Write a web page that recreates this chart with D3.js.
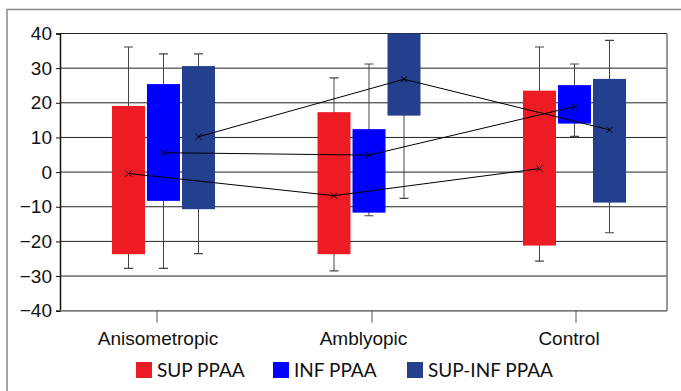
<!DOCTYPE html>
<html lang="en">
<head>
  <meta charset="UTF-8">
  <title>PPAA by group</title>
  <script src="https://d3js.org/d3.v7.min.js"></script>
  <style>
    body { margin: 0; background: #fff; font-family: 'Lato', 'Open Sans', sans-serif; }
    svg { display: block; }
    .tick text { font-size: 19px; fill: #111; }
  </style>
</head>
<body>
<svg width="681" height="391"></svg>
<script>
  // Data
  const groups = ["Anisometropic", "Amblyopic", "Control"];
  const series = ["SUP PPAA", "INF PPAA", "SUP-INF PPAA"];
  const colors = ["#ED1C24", "#0000FF", "#243F8E"];

  // box bottom / top, whisker low / high, mean — one array per series, in group order
  const boxLow = [[-23.7, -23.7, -21.2], [-8.3, -11.7, 14.0], [-10.7, 16.3, -8.8]];
  const boxHigh = [[19.1, 17.3, 23.5], [25.4, 12.4, 25.1], [30.6, 45, 26.9]];
  const whiskLow = [[-27.8, -28.5, -25.7], [-27.8, -12.6, 10.3], [-23.5, -7.6, -17.5]];
  const whiskHigh = [[36.1, 27.2, 36.1], [34.1, 31.2, 31.2], [34.1, 52, 38.0]];
  const means = [[-0.4, -6.8, 1.0], [5.6, 4.9, 18.9], [10.2, 26.8, 12.2]];

  const yTicks = [-40, -30, -20, -10, 0, 10, 20, 30, 40];

  const svg = d3.select("svg");
  const mLeft = 60, mRight = 667, mTop = 33.5, mBottom = 310.7;

  // outer frame
  svg.append("path")
    .attr("d", "M7,391V9.5H681")
    .attr("fill", "none").attr("stroke", "#888").attr("stroke-width", 1.5);

  const y = d3.scaleLinear().domain([-40, 40]).range([mBottom, mTop]);
  const x = d3.scalePoint().domain(groups).range([163.5, 574.5]);
  const xs = d3.scaleBand().domain(series).range([-51.5, 51.5]).paddingInner(2 / 35);

  // gridlines
  svg.append("g").selectAll("line").data(yTicks).join("line")
    .attr("x1", mLeft).attr("x2", mRight)
    .attr("y1", d => y(d)).attr("y2", d => y(d))
    .attr("stroke", "#222").attr("stroke-width", 1);

  // right border
  svg.append("line").attr("x1", mRight).attr("x2", mRight).attr("y1", mTop).attr("y2", mBottom)
    .attr("stroke", "#777").attr("stroke-width", 1.5);

  svg.append("clipPath").attr("id", "plot")
    .append("rect").attr("x", mLeft).attr("y", mTop).attr("width", mRight - mLeft).attr("height", mBottom - mTop);

  const plot = svg.append("g").attr("clip-path", "url(#plot)");

  series.forEach((s, i) => {
    const g = plot.append("g");
    const cx = d => x(groups[d]) + xs(s) + xs.bandwidth() / 2;
    const idx = d3.range(groups.length);

    // whiskers
    g.selectAll(".whisk").data(idx).join("line")
      .attr("x1", cx).attr("x2", cx)
      .attr("y1", d => y(whiskLow[i][d])).attr("y2", d => y(whiskHigh[i][d]))
      .attr("stroke", "#444").attr("stroke-width", 1);
    [whiskLow, whiskHigh].forEach(arr => {
      g.selectAll(null).data(idx).join("line")
        .attr("x1", d => cx(d) - 4.5).attr("x2", d => cx(d) + 4.5)
        .attr("y1", d => y(arr[i][d])).attr("y2", d => y(arr[i][d]))
        .attr("stroke", "#444").attr("stroke-width", 1.2);
    });

    // boxes
    g.selectAll("rect").data(idx).join("rect")
      .attr("x", d => x(groups[d]) + xs(s))
      .attr("width", xs.bandwidth())
      .attr("y", d => y(boxHigh[i][d]))
      .attr("height", d => y(boxLow[i][d]) - y(boxHigh[i][d]))
      .attr("fill", colors[i]);
  });

  // mean lines + x markers
  series.forEach((s, i) => {
    const idx = d3.range(groups.length);
    const cx = d => x(groups[d]) + xs(s) + xs.bandwidth() / 2;
    plot.append("path")
      .datum(idx)
      .attr("d", d3.line().x(cx).y(d => y(means[i][d])))
      .attr("fill", "none").attr("stroke", "#000").attr("stroke-width", 1);
    plot.selectAll(null).data(idx).join("path")
      .attr("d", d => {
        const px = cx(d), py = y(means[i][d]);
        return `M${px - 3},${py - 3}L${px + 3},${py + 3}M${px - 3},${py + 3}L${px + 3},${py - 3}`;
      })
      .attr("stroke", "#000").attr("stroke-width", 1);
  });

  // y axis
  const yAxis = svg.append("g").attr("transform", `translate(${mLeft},0)`)
    .call(d3.axisLeft(y).tickValues(yTicks).tickSize(4).tickPadding(4));
  yAxis.select(".domain").attr("stroke", "#111").attr("stroke-width", 1.5);
  yAxis.selectAll(".tick line").attr("stroke", "#111");

  // x axis
  const xAxis = svg.append("g").attr("transform", `translate(0,${mBottom})`)
    .call(d3.axisBottom(x).tickSize(0).tickPadding(21));
  xAxis.select(".domain").attr("d", `M${mLeft},0H${mRight}`).attr("stroke", "#777").attr("stroke-width", 1.5);
  xAxis.selectAll(".tick text").attr("dx", -6);

  const xTickPos = [157, 372, 576];
  svg.append("g").selectAll("line").data(xTickPos).join("line")
    .attr("x1", d => d).attr("x2", d => d)
    .attr("y1", mBottom).attr("y2", mBottom + 12)
    .attr("stroke", "#555").attr("stroke-width", 1);

  // legend
  const legendX = [136, 273, 407];
  const legend = svg.append("g").selectAll("g").data(series).join("g")
    .attr("transform", (d, i) => `translate(${legendX[i]},362)`);
  legend.append("rect").attr("width", 16).attr("height", 16).attr("fill", (d, i) => colors[i]);
  legend.append("text").attr("x", 21).attr("y", 15)
    .attr("font-size", 19).attr("fill", "#111").text(d => d);
</script>
</body>
</html>
